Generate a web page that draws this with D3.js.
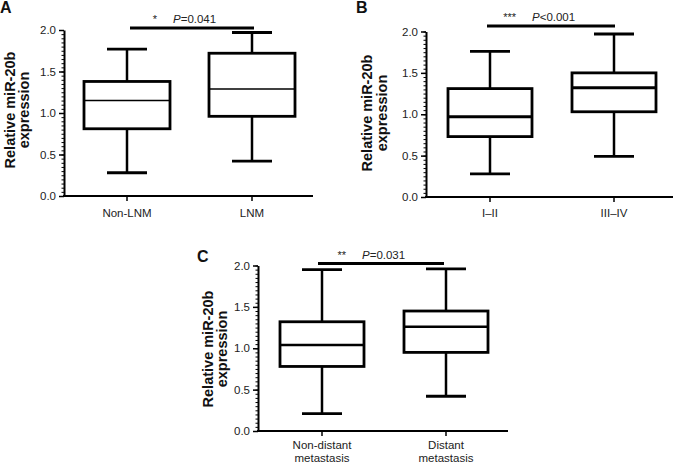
<!DOCTYPE html>
<html><head><meta charset="utf-8">
<script src="https://cdn.jsdelivr.net/npm/d3@7"></script>
<style>body{margin:0;background:#fff}svg{display:block;font-family:"Liberation Sans",Arial,sans-serif}</style>
</head><body><svg id="c" width="678" height="464"></svg>
<script>
// Panel A
const catsA = ["Non-LNM", "LNM"];
const boxA = [
  {min:0.28, q1:0.81, med:1.15, q3:1.38, max:1.77},
  {min:0.42, q1:0.96, med:1.29, q3:1.72, max:1.97}
];
// Panel B
const catsB = ["I\u2013II", "III\u2013IV"];
const boxB = [
  {min:0.28, q1:0.73, med:0.97, q3:1.31, max:1.76},
  {min:0.49, q1:1.03, med:1.32, q3:1.50, max:1.97}
];
// Panel C
const catsC = [["Non-distant","metastasis"], ["Distant","metastasis"]];
const boxC = [
  {min:0.21, q1:0.78, med:1.04, q3:1.32, max:1.95},
  {min:0.42, q1:0.95, med:1.26, q3:1.45, max:1.96}
];
const yTicks = [0.0, 0.5, 1.0, 1.5, 2.0];
const sigs = [
  {stars:"*", p:"=0.041"},
  {stars:"***", p:"<0.001"},
  {stars:"**", p:"=0.031"}
];
const panelLabels = ["A","B","C"];

const svg = d3.select("#c");

const panels = [
  {label:panelLabels[0], cats:catsA, boxes:boxA, sig:sigs[0], ax:64, ay0:196, ay1:30, axEnd:313, centers:[127,252], boxW:86, capW:40, medW:1.6, sigY:28, sigX:[130,254], lab:[0,13], ylx:[15,29], ymid:110, xlY:217},
  {label:panelLabels[1], cats:catsB, boxes:boxB, sig:sigs[1], ax:426, ay0:197, ay1:31.5, axEnd:673, centers:[490,614], boxW:84, capW:40, medW:2.8, sigY:26, sigX:[487,615], lab:[356,13], ylx:[372,387], ymid:113, xlY:217},
  {label:panelLabels[2], cats:catsC, boxes:boxC, sig:sigs[2], ax:258, ay0:431, ay1:265.5, axEnd:508, centers:[322,446], boxW:84, capW:40, medW:2.5, sigY:263.5, sigX:[318,444], lab:[197,262], ylx:[213,227], ymid:349, xlY:449}
];

panels.forEach(p => {
  const g = svg.append("g");
  const y = d3.scaleLinear().domain([0,2]).range([p.ay0, p.ay1]);
  const x = d3.scalePoint().domain(d3.range(p.cats.length)).range(p.centers);

  // minor ticks
  const minor = d3.range(0, 2.0001, 0.05);
  g.append("g").attr("transform",`translate(${p.ax},0)`)
    .call(d3.axisLeft(y).tickValues(minor).tickSize(2.5).tickFormat(""))
    .call(s => s.select(".domain").remove())
    .selectAll("line").attr("stroke","#000").attr("stroke-width",1);
  // major y axis
  const ya = g.append("g").attr("transform",`translate(${p.ax},0)`)
    .call(d3.axisLeft(y).tickValues(yTicks).tickSize(5).tickSizeOuter(0).tickPadding(3).tickFormat(d3.format(".1f")));
  ya.select(".domain").attr("stroke","#000").attr("stroke-width",2);
  ya.selectAll(".tick line").attr("stroke","#000").attr("stroke-width",1.5);
  ya.selectAll("text").attr("font-size",11.5).attr("fill","#222").attr("font-family","Liberation Sans, Arial, sans-serif");

  // x axis
  const xa = g.append("g").attr("transform",`translate(0,${p.ay0})`);
  xa.append("line").attr("x1",p.ax-1).attr("x2",p.axEnd).attr("y1",0).attr("y2",0).attr("stroke","#000").attr("stroke-width",2);
  p.cats.forEach((c,i) => {
    xa.append("line").attr("x1",x(i)).attr("x2",x(i)).attr("y1",0).attr("y2",5).attr("stroke","#000").attr("stroke-width",1.5);
    const lines = Array.isArray(c) ? c : [c];
    lines.forEach((t,j) => {
      svg.append("text").attr("x",x(i)).attr("y",p.xlY + j*13).attr("text-anchor","middle")
        .attr("font-size",11.5).attr("fill","#222").text(t);
    });
  });

  // boxes
  p.boxes.forEach((b,i) => {
    const cx = x(i), hw = p.boxW/2, cw = p.capW/2;
    const bg = g.append("g").attr("stroke","#000").attr("fill","none");
    bg.append("line").attr("x1",cx).attr("x2",cx).attr("y1",y(b.max)).attr("y2",y(b.q3)).attr("stroke-width",2.5);
    bg.append("line").attr("x1",cx).attr("x2",cx).attr("y1",y(b.q1)).attr("y2",y(b.min)).attr("stroke-width",2.5);
    bg.append("line").attr("x1",cx-cw).attr("x2",cx+cw).attr("y1",y(b.max)).attr("y2",y(b.max)).attr("stroke-width",2.8);
    bg.append("line").attr("x1",cx-cw).attr("x2",cx+cw).attr("y1",y(b.min)).attr("y2",y(b.min)).attr("stroke-width",2.8);
    bg.append("rect").attr("x",cx-hw).attr("y",y(b.q3)).attr("width",p.boxW).attr("height",y(b.q1)-y(b.q3)).attr("fill","#fff").attr("stroke-width",2.8);
    bg.append("line").attr("x1",cx-hw).attr("x2",cx+hw).attr("y1",y(b.med)).attr("y2",y(b.med)).attr("stroke-width",p.medW);
  });

  // significance
  g.append("line").attr("x1",p.sigX[0]).attr("x2",p.sigX[1]).attr("y1",p.sigY).attr("y2",p.sigY).attr("stroke","#000").attr("stroke-width",2.8);
  const mid = (p.sigX[0]+p.sigX[1])/2;
  g.append("text").attr("x",mid-35).attr("y",p.sigY-5).attr("text-anchor","end").attr("font-size",11).attr("fill","#222").text(p.sig.stars);
  const pt = g.append("text").attr("x",mid-19).attr("y",p.sigY-5).attr("font-size",11.5).attr("fill","#222");
  pt.append("tspan").attr("font-style","italic").text("P");
  pt.append("tspan").text(p.sig.p);

  // y label
  [["Relative miR-20b",p.ylx[0]],["expression",p.ylx[1]]].forEach(([t,lx]) => {
    g.append("text").attr("transform",`translate(${lx},${p.ymid}) rotate(-90)`).attr("text-anchor","middle")
      .attr("font-size",14.5).attr("font-weight","bold").attr("fill","#111").text(t);
  });

  // panel label
  g.append("text").attr("x",p.lab[0]).attr("y",p.lab[1]).attr("font-size",16).attr("font-weight","bold").attr("fill","#111").text(p.label);
});
</script></body></html>
